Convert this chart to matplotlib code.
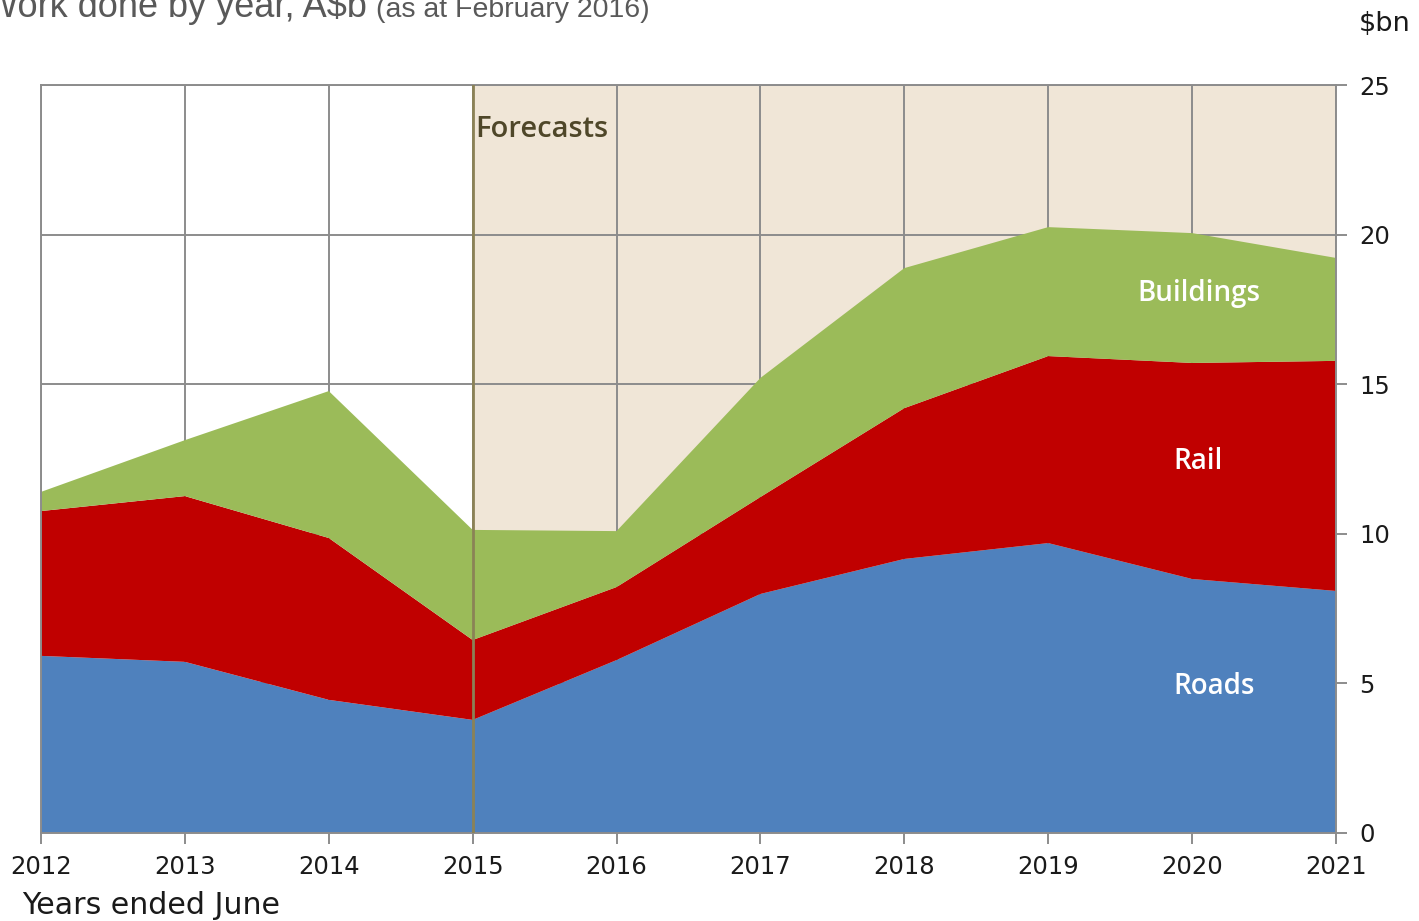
import numpy as np
import matplotlib.pyplot as plt

# data (A$bn, years ended June)
years = [2012, 2013, 2014, 2015, 2016, 2017, 2018, 2019, 2020, 2021]
roads = [5.92, 5.72, 4.45, 3.78, 5.78, 7.99, 9.16, 9.69, 8.49, 8.09]
rail = [4.84, 5.54, 5.41, 2.67, 2.44, 3.24, 5.04, 6.25, 7.22, 7.69]
buildings = [0.64, 1.87, 4.91, 3.68, 1.87, 3.98, 4.68, 4.31, 4.34, 3.44]
yticks = [0, 5, 10, 15, 20, 25]
forecast_start = 2015

W, H = 1419, 921
fig = plt.figure(figsize=(W / 100, H / 100), dpi=100)
ax = fig.add_axes([41 / W, 1 - 833 / H, (1336 - 41) / W, (833 - 85) / H])

grid_c = '#8c8c8c'
ax.axvspan(forecast_start, years[-1], color='#f0e6d7', zorder=0)
ax.stackplot(years, roads, rail, buildings,
             colors=['#4f81bd', '#c00000', '#9bbb59'], zorder=2, linewidth=0)
ax.axvline(forecast_start, color='#8b8256', lw=2, zorder=3)

ax.set_xlim(years[0], years[-1])
ax.set_ylim(0, 25)
ax.set_xticks(years)
ax.set_yticks(yticks)
ax.grid(True, color=grid_c, lw=1.4, zorder=1)
ax.set_axisbelow(True)
for s in ax.spines.values():
    s.set_color(grid_c)
    s.set_linewidth(1.4)
ax.yaxis.tick_right()
ax.tick_params(axis='both', colors=grid_c, labelcolor='#1a1a1a', labelsize=17.5,
               width=1.4, length=8)
ax.tick_params(axis='y', pad=9)
ax.tick_params(axis='x', pad=8)

# labels inside areas
lab_font = dict(family='Open Sans', fontweight='semibold', fontsize=20,
                color='white', ha='center', va='center')
ax.text(2020.05, 18.02, 'Buildings', **lab_font)
ax.text(2020.04, 12.43, 'Rail', **lab_font)
ax.text(2020.15, 4.88, 'Roads', **lab_font)
ax.text(2015.02, 23.5, 'Forecasts', family='Open Sans', fontweight='semibold',
        fontsize=21, color='#4f4729', ha='left', va='center')

# title, cut off at the edge like the source
fig.text(-16 / W, 1 - 17 / H, 'Work done by year, A$b', family='Liberation Sans',
         fontsize=26, color='#595959', ha='left', va='baseline')
fig.text(376 / W, 1 - 17 / H, '(as at February 2016)', family='Liberation Sans',
         fontsize=20.5, color='#595959', ha='left', va='baseline')
fig.text(1359 / W, 1 - 31 / H, '$bn', fontsize=19.5,
         color='#1a1a1a', ha='left', va='baseline')
fig.text(22 / W, 1 - 914 / H, 'Years ended June', fontsize=21.6,
         color='#1a1a1a', ha='left', va='baseline')

fig.savefig('out.png', dpi=100)
